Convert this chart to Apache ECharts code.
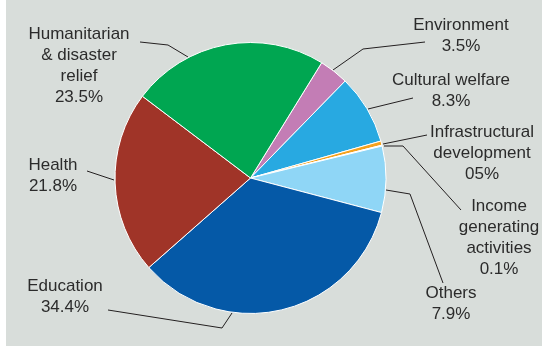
<!DOCTYPE html>
<html>
<head>
<meta charset="utf-8">
<script src="https://cdn.jsdelivr.net/npm/echarts@6/dist/echarts.min.js"></script>
<style>
  html, body { margin: 0; padding: 0; background: #fff; }
  #chart {
    width: 542px; height: 346px;
    background: linear-gradient(to right, #fff 6px, #d8dddA 6px);
  }
</style>
</head>
<body>
<div id="chart"></div>
<script>
// slice order, clockwise from the top right
const categories = [
  'Environment',
  'Cultural welfare',
  'Infrastructural development',
  'Income generating activities',
  'Others',
  'Education',
  'Health',
  'Humanitarian & disaster relief'
];
const shares = [3.5, 8.3, 0.5, 0.1, 7.9, 34.4, 21.8, 23.5];
// label text as printed (incl. "05%")
const labelTexts = [
  'Environment\n3.5%',
  'Cultural welfare\n8.3%',
  'Infrastructural\ndevelopment\n05%',
  'Income\ngenerating\nactivities\n0.1%',
  'Others\n7.9%',
  'Education\n34.4%',
  'Health\n21.8%',
  'Humanitarian\n& disaster\nrelief\n23.5%'
];
const colors = ['#c37db5', '#28a9e1', '#f5a21d', '#e6ebe6', '#8fd6f6', '#0559a7', '#a03428', '#00a651'];

// where each label sits and how its leader line runs
const labelPos = [
  { x: 461, y: 36, line: [[333, 70], [363, 49], [425, 42]] },
  { x: 451, y: 90.5, line: [[368, 109], [413, 98]] },
  { x: 482, y: 153, line: [[383, 144], [427, 135]] },
  { x: 499, y: 237.5, line: [[384, 146], [403, 146], [461, 210]] },
  { x: 451, y: 304, line: [[386, 190], [410, 194], [443, 283]] },
  { x: 65, y: 296.5, line: [[232, 313], [222, 328], [108, 310]] },
  { x: 53, y: 176, line: [[114, 180], [87, 171]] },
  { x: 79, y: 65.5, line: [[188, 57], [168, 45], [140, 42]] }
];

const chart = echarts.init(document.getElementById('chart'));

chart.setOption({
  backgroundColor: 'transparent',
  animation: false,
  series: [
    {
      type: 'pie',
      center: [250.5, 178],
      radius: [0, 135.5],
      startAngle: 58.3,
      clockwise: true,
      avoidLabelOverlap: false,
      itemStyle: { borderColor: '#fff', borderWidth: 1 },
      label: {
        show: true,
        formatter: p => labelTexts[p.dataIndex],
        fontFamily: 'Liberation Sans, Arial, sans-serif',
        fontSize: 17,
        lineHeight: 21,
        color: '#2b2b2b',
        align: 'center'
      },
      labelLine: {
        show: true,
        lineStyle: { color: '#231f20', width: 1 }
      },
      labelLayout: p => {
        const pos = labelPos[p.dataIndex];
        return {
          x: pos.x,
          y: pos.y,
          align: 'center',
          verticalAlign: 'middle',
          labelLinePoints: pos.line
        };
      },
      data: categories.map((name, i) => ({
        name: name,
        value: shares[i],
        itemStyle: { color: colors[i] }
      }))
    }
  ]
});
</script>
</body>
</html>
